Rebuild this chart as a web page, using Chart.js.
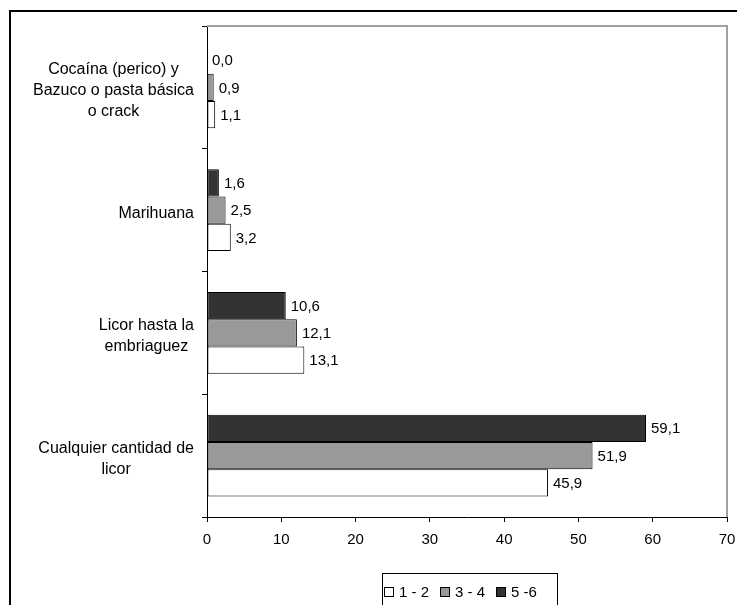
<!DOCTYPE html>
<html>
<head>
<meta charset="utf-8">
<script src="https://cdn.jsdelivr.net/npm/chart.js@4"></script>
<style>
    body { margin: 0; background: #fff; font-family: "Liberation Sans", Arial, sans-serif; }
    #wrap { position: relative; width: 737px; height: 605px; overflow: hidden; }
    #frame { position: absolute; left: 9px; top: 10px; width: 800px; height: 700px;
             border-left: 2px solid #000; border-top: 2px solid #000; }
    #legend { position: absolute; left: 382px; top: 573px; width: 176px; height: 40px;
              border: 1px solid #000; box-sizing: border-box; font-size: 15px;
              display: flex; align-items: flex-start; padding: 9px 0 0 1px; }
    #legend span.item { display: inline-flex; align-items: center; margin-right: 11px; }
    #legend span.box { display: inline-block; width: 8px; height: 8px; border: 1px solid #000; margin-right: 5px; }
</style>
</head>
<body>
<div id="wrap">
    <div id="frame"></div>
    <canvas id="chart"></canvas>
    <div id="legend"></div>
</div>
<script>
// categorias (de arriba hacia abajo)
const categorias = [
    ["Cocaína (perico) y", "Bazuco o pasta básica", "o crack"],
    ["Marihuana"],
    ["Licor hasta la", "embriaguez"],
    ["Cualquier cantidad de", "licor"],
];
// valores por estrato
const estrato56 = [0.0, 1.6, 10.6, 59.1];
const estrato34 = [0.9, 2.5, 12.1, 51.9];
const estrato12 = [1.1, 3.2, 13.1, 45.9];
const ejeX = [0, 10, 20, 30, 40, 50, 60, 70];

const fuente = "Liberation Sans, Arial, sans-serif";

// etiquetas de valores al final de cada barra
const etiquetasValor = {
    id: "etiquetasValor",
    afterDatasetsDraw(chart) {
        const ctx = chart.ctx;
        ctx.save();
        ctx.font = "15px " + fuente;
        ctx.fillStyle = "#000";
        ctx.textBaseline = "middle";
        ctx.textAlign = "left";
        chart.data.datasets.forEach((ds, i) => {
            chart.getDatasetMeta(i).data.forEach((bar, j) => {
                const txt = ds.data[j].toFixed(1).replace(".", ",");
                ctx.fillText(txt, bar.x + 5, bar.y + 1);
            });
        });
        ctx.restore();
    },
};

// nombres de categorias: bloque alineado a la derecha, lineas centradas
const etiquetasEje = {
    id: "etiquetasEje",
    afterDraw(chart) {
        const ctx = chart.ctx;
        const y = chart.scales.y;
        ctx.save();
        ctx.font = "16px " + fuente;
        ctx.fillStyle = "#000";
        ctx.textBaseline = "middle";
        ctx.textAlign = "center";
        const derecha = chart.chartArea.left - 13;
        const alto = 21;
        categorias.forEach((lineas, i) => {
            const ancho = Math.max(...lineas.map((l) => ctx.measureText(l).width));
            const cx = derecha - ancho / 2;
            const cy = y.getPixelForValue(i) + 3;
            lineas.forEach((l, k) => {
                ctx.fillText(l, cx, cy + (k - (lineas.length - 1) / 2) * alto);
            });
        });
        ctx.restore();
    },
};

// borde gris arriba y a la derecha del area de trazado
const bordeGris = {
    id: "bordeGris",
    beforeDatasetsDraw(chart) {
        const a = chart.chartArea;
        const ctx = chart.ctx;
        ctx.save();
        ctx.strokeStyle = "#a0a0a0";
        ctx.lineWidth = 2;
        ctx.beginPath();
        ctx.moveTo(a.left, a.top);
        ctx.lineTo(a.right, a.top);
        ctx.lineTo(a.right, a.bottom);
        ctx.stroke();
        ctx.restore();
    },
};

const chart = new Chart(document.getElementById("chart"), {
    type: "bar",
    data: {
        labels: categorias,
        datasets: [
            { label: "5 -6", data: estrato56, backgroundColor: "#333333" },
            { label: "3 - 4", data: estrato34, backgroundColor: "#999999" },
            { label: "1 - 2", data: estrato12, backgroundColor: "#ffffff" },
        ].map((d) => Object.assign(d, {
            borderColor: "#000",
            borderWidth: 1,
            borderSkipped: false,
            barPercentage: 1,
            categoryPercentage: 0.667,
        })),
    },
    options: {
        indexAxis: "y",
        responsive: true,
        maintainAspectRatio: false,
        animation: false,
        layout: { padding: { top: 26, right: 10, left: 0, bottom: 0 } },
        plugins: {
            legend: { display: false },
            tooltip: { enabled: false },
        },
        scales: {
            x: {
                min: ejeX[0],
                max: ejeX[ejeX.length - 1],
                afterBuildTicks: (s) => { s.ticks = ejeX.map((v) => ({ value: v })); },
                afterFit: (s) => { s.height = 88; s.paddingRight = 0; },
                border: { color: "#000", width: 1 },
                grid: { drawOnChartArea: false, drawTicks: true, tickLength: 5, color: "#000" },
                ticks: { color: "#000", font: { family: fuente, size: 15 }, padding: 9 },
            },
            y: {
                afterFit: (s) => { s.width = 207; },
                border: { color: "#000", width: 1 },
                grid: { offset: true, drawOnChartArea: false, drawTicks: true, tickLength: 5, color: "#000" },
                ticks: { display: false },
            },
        },
    },
    plugins: [bordeGris, etiquetasValor, etiquetasEje],
});

// leyenda en orden inverso: 1 - 2, 3 - 4, 5 -6
const leyenda = document.getElementById("legend");
chart.data.datasets.slice().reverse().forEach((ds) => {
    const item = document.createElement("span");
    item.className = "item";
    item.innerHTML = '<span class="box" style="background:' + ds.backgroundColor + '"></span>' + ds.label;
    leyenda.appendChild(item);
});
</script>
</body>
</html>
